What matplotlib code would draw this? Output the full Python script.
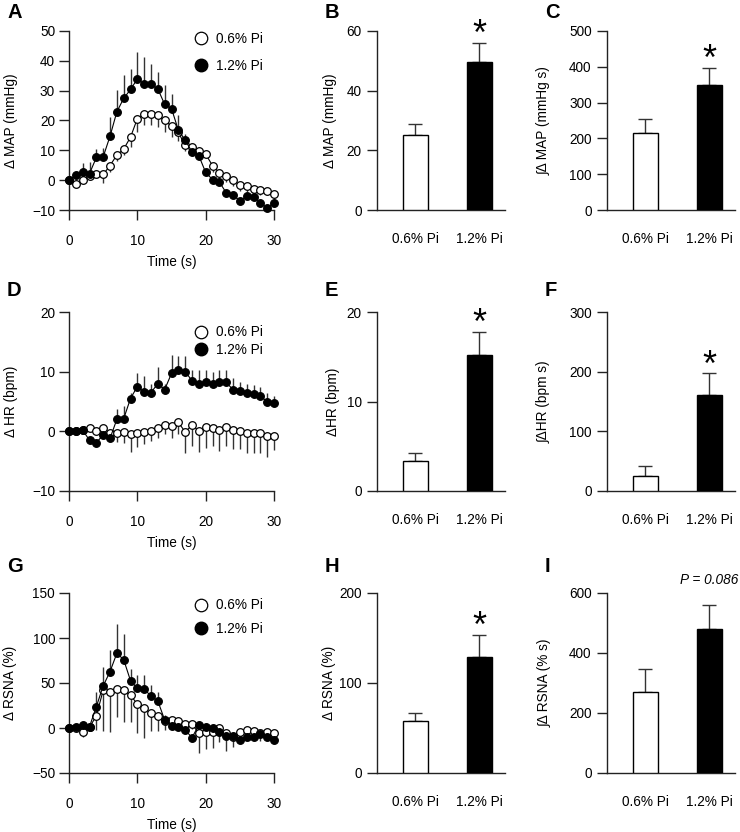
import matplotlib
matplotlib.use("Agg")
import matplotlib.pyplot as plt
from matplotlib.lines import Line2D
import numpy as np

plt.rcParams['font.family'] = ['Liberation Sans', 'DejaVu Sans']

# ---------------- data ----------------
time_s = list(range(31))

map_06 = [0, -1.3, 0, 1.5, 1.9, 1.9, 4.9, 8.4, 10.4, 14.4, 20.6, 22.3, 22.1, 21.7, 20.0, 18.1,
          16.0, 11.7, 11.2, 9.7, 8.7, 4.9, 2.5, 1.3, 0.2, -1.7, -2.0, -3.1, -3.4, -3.6, -4.5]
map_06_se = [0, 0.5, 0.5, 1, 1, 3, 2, 2, 2, 3.2, 4.4, 3.9, 3.7, 4, 4, 3.6,
             3, 2, 1, 1, 1, 2, 2, 2, 2, 2, 2, 1.5, 1.5, 1.5, 4.5]
map_12 = [0, 1.7, 2.6, 2.2, 7.6, 7.8, 14.7, 22.9, 27.4, 30.4, 33.9, 32.3, 32.1, 30.6, 25.4, 24.0,
          16.8, 13.4, 9.5, 8.2, 2.6, 0.2, -0.6, -4.2, -5.0, -6.9, -5.4, -5.6, -7.6, -9.3, -7.5]
map_12_se = [0, 1, 3, 4, 3, 3, 6.5, 7.3, 8, 7, 9, 9, 7, 5.7, 6.4, 5,
             5, 2, 1, 1, 1, 1, 1, 1, 1, 1, 1, 1, 1, 1, 1]

hr_06 = [0, 0, 0.2, 0.5, 0, 0.6, -0.3, -0.3, -0.1, -0.5, -0.2, -0.1, 0.1, 0.6, 1.0, 0.9,
         1.5, -0.1, 1.0, 0.1, 0.7, 0.6, 0.2, 0.8, 0.2, 0, -0.2, -0.2, -0.3, -0.8, -0.7]
hr_06_se = [0, 0, 0, 0.5, 0.5, 0.5, 1, 1.5, 1.8, 3, 2.5, 2, 1.8, 1.8, 1.5, 2,
            2, 3.6, 3.5, 3.5, 3.5, 3.0, 3.5, 3.2, 3.2, 3.0, 3.5, 3.5, 3.3, 3.5, 2.5]
hr_12 = [0, 0, 0.2, -1.5, -1.9, -0.6, -1.2, 2.0, 2.1, 5.5, 7.5, 6.6, 6.5, 8.0, 7.0, 9.7,
         10.2, 10.0, 8.5, 8.0, 8.3, 8.0, 8.3, 8.2, 7.0, 6.8, 6.5, 6.3, 5.9, 5.0, 4.7]
hr_12_se = [0, 0, 0, 0.5, 0.5, 0.5, 0.5, 1.7, 2.2, 1, 2.2, 2.6, 1.5, 2.8, 1, 3.1,
            2.4, 2.6, 1.8, 2.3, 2, 2, 2, 2, 2, 1.5, 1.5, 1.5, 1.5, 1.5, 1.2]

rsna_06 = [0, 0, -4, 1, 13.3, 42, 40, 43.7, 42, 36.3, 26.7, 21.9, 16.3, 13.3, 8, 8.9,
           8, 4, 4.4, -6, -4.8, -4, -0.4, -6, -9.6, -4, -2.2, -3.7, -6, -4, -5.2]
rsna_06_se = [0, 3, 6, 3, 15, 45, 44, 31, 35, 30, 32, 33, 20, 17, 10, 8,
              8, 6, 6, 22, 19, 18, 15, 20, 12, 10, 10, 8, 8, 8, 8]
rsna_12 = [0, 0.7, 3.3, 1.5, 23.7, 46.7, 62.6, 83, 76, 52.6, 44, 43, 35.6, 30, 8.9, 2.2,
           1.5, -2.2, -10.7, 3.3, 1.5, 0, -4, -8.5, -8.5, -13, -9.6, -10.4, -7, -9.6, -13]
rsna_12_se = [0, 2, 3, 3, 16, 21, 24, 33, 29, 13, 15, 16, 12, 10, 5, 4,
              4, 4, 4, 4, 4, 4, 4, 4, 4, 4, 4, 4, 4, 4, 4]

groups = ['0.6% Pi', '1.2% Pi']
peak_map = [25.1, 49.7]
peak_map_se = [3.6, 6.4]
int_map = [216, 349]
int_map_se = [38, 48]
peak_hr = [3.4, 15.2]
peak_hr_se = [0.9, 2.6]
int_hr = [25, 161]
int_hr_se = [17, 36]
peak_rsna = [57.6, 128.6]
peak_rsna_se = [9.3, 25]
int_rsna = [271, 480]
int_rsna_se = [77, 80]

# ---------------- layout ----------------
W, H = 740, 832
fig = plt.figure(figsize=(W / 100, H / 100), dpi=100)


def add_ax(left, right, top, bottom):
    return fig.add_axes([left / W, 1 - bottom / H, (right - left) / W, (bottom - top) / H])


rows = [(31, 210), (312, 491), (593, 773)]
cols = [(69, 274), (377, 505), (607, 735)]

TICK_FS = 9.8
LAB_FS = 9.8


def style(ax):
    for s in ['top', 'right']:
        ax.spines[s].set_visible(False)
    for s in ['left', 'bottom']:
        ax.spines[s].set_linewidth(1.0)
        ax.spines[s].set_color('#222222')
    ax.tick_params(direction='out', length=7, width=1.0, labelsize=TICK_FS, color='#222222')


def place_ylabel(ax, text, x_px, left_px, width_px):
    ax.set_ylabel(text, fontsize=LAB_FS, va='center')
    ax.yaxis.set_label_coords((x_px - left_px) / width_px, 0.5)


def time_panel(ax, col, y06, se06, y12, se12, ylim, yticks, ylabel, ylab_x, leg_anchor, leg_spacing):
    style(ax)
    t = np.array(time_s)
    ax.errorbar(t, y06, yerr=[se06, np.zeros(len(t))], fmt='none', ecolor='#333333',
                elinewidth=1.0, capsize=0, zorder=2, clip_on=False)
    ax.plot(t, y06, '-', color='black', lw=0.8, zorder=3, clip_on=False)
    ax.plot(t, y06, 'o', mfc='white', mec='black', mew=0.9, ms=5.5, zorder=4, clip_on=False)
    ax.errorbar(t, y12, yerr=[np.zeros(len(t)), se12], fmt='none', ecolor='#333333',
                elinewidth=1.0, capsize=0, zorder=5, clip_on=False)
    ax.plot(t, y12, '-', color='black', lw=0.8, zorder=6, clip_on=False)
    ax.plot(t, y12, 'o', mfc='black', mec='black', mew=0.9, ms=5.5, zorder=7, clip_on=False)
    ax.set_xlim(0, 30)
    ax.set_ylim(*ylim)
    ax.set_xticks([0, 10, 20, 30])
    ax.set_yticks(yticks)
    ax.set_yticklabels([('\u2212' + str(-v)) if v < 0 else str(v) for v in yticks])
    ax.tick_params(axis='x', pad=10)
    ax.tick_params(axis='y', pad=3)
    ax.set_xlabel('Time (s)', fontsize=LAB_FS, labelpad=5)
    place_ylabel(ax, ylabel, ylab_x, col[0], col[1] - col[0])
    handles = [Line2D([], [], marker='o', ls='none', mfc='white', mec='black', mew=0.9, ms=9),
               Line2D([], [], marker='o', ls='none', mfc='black', mec='black', ms=9)]
    ax.legend(handles, groups, loc='upper left', bbox_to_anchor=leg_anchor, frameon=False,
              handlelength=1.0, handletextpad=0.6, labelspacing=leg_spacing, borderpad=0,
              borderaxespad=0, fontsize=LAB_FS)


def bar_panel(ax, col, vals, ses, ylim, yticks, ylabel, ylab_x, mark=None):
    style(ax)
    x = np.arange(len(groups))
    ax.bar(x, vals, width=0.4, color=['white', 'black'], edgecolor='black', linewidth=1.0, zorder=3)
    ax.errorbar(x, vals, yerr=[np.zeros(len(x)), ses], fmt='none', ecolor='#333333',
                elinewidth=1.0, capsize=4.7, capthick=1.0, zorder=2)
    ax.set_xlim(-0.6, 1.4)
    ax.set_ylim(*ylim)
    ax.set_yticks(yticks)
    ax.set_xticks(x)
    ax.set_xticklabels(groups)
    ax.tick_params(axis='x', length=0, pad=16)
    ax.tick_params(axis='y', pad=4)
    place_ylabel(ax, ylabel, ylab_x, col[0], col[1] - col[0])
    if mark == '*':
        ax.annotate('*', xy=(1, vals[1] + ses[1]), xytext=(0, -1.5), textcoords='offset points',
                    ha='center', va='baseline', fontsize=26)
    elif mark is not None:
        ax.annotate(mark, xy=(1, ylim[1]), xytext=(0, 9), textcoords='offset points',
                    ha='center', va='center', fontsize=LAB_FS, style='italic')


axA = add_ax(*cols[0], *rows[0])
time_panel(axA, cols[0], map_06, map_06_se, map_12, map_12_se, (-10, 50), [-10, 0, 10, 20, 30, 40, 50],
           '\u0394 MAP (mmHg)', 11, (0.61, 0.997), 1.0)
axB = add_ax(*cols[1], *rows[0])
bar_panel(axB, cols[1], peak_map, peak_map_se, (0, 60), [0, 20, 40, 60], '\u0394 MAP (mmHg)', 330, '*')
axC = add_ax(*cols[2], *rows[0])
bar_panel(axC, cols[2], int_map, int_map_se, (0, 500), [0, 100, 200, 300, 400, 500],
          '\u222b\u0394 MAP (mmHg s)', 544, '*')

axD = add_ax(*cols[0], *rows[1])
time_panel(axD, cols[0], hr_06, hr_06_se, hr_12, hr_12_se, (-10, 20), [-10, 0, 10, 20],
           '\u0394 HR (bpm)', 11, (0.61, 0.925), 0.25)
axE = add_ax(*cols[1], *rows[1])
bar_panel(axE, cols[1], peak_hr, peak_hr_se, (0, 20), [0, 10, 20], '\u0394HR (bpm)', 333, '*')
axF = add_ax(*cols[2], *rows[1])
bar_panel(axF, cols[2], int_hr, int_hr_se, (0, 300), [0, 100, 200, 300], '\u222b\u0394HR (bpm s)', 544, '*')

axG = add_ax(*cols[0], *rows[2])
time_panel(axG, cols[0], rsna_06, rsna_06_se, rsna_12, rsna_12_se, (-50, 150), [-50, 0, 50, 100, 150],
           '\u0394 RSNA (%)', 10, (0.61, 0.97), 0.7)
axH = add_ax(*cols[1], *rows[2])
bar_panel(axH, cols[1], peak_rsna, peak_rsna_se, (0, 200), [0, 100, 200], '\u0394 RSNA (%)', 329, '*')
axI = add_ax(*cols[2], *rows[2])
bar_panel(axI, cols[2], int_rsna, int_rsna_se, (0, 600), [0, 200, 400, 600], '\u222b\u0394 RSNA (% s)', 545,
          'P = 0.086')

labels = [('A', 7, 12), ('B', 325, 12), ('C', 545, 12),
          ('D', 7, 291), ('E', 325, 291), ('F', 545, 291),
          ('G', 7, 566), ('H', 325, 566), ('I', 545, 566)]
for txt, x, y in labels:
    fig.text(x / W, 1 - y / H, txt, fontsize=14.5, fontweight='bold', ha='left', va='center')

fig.savefig('out.png', dpi=100)
